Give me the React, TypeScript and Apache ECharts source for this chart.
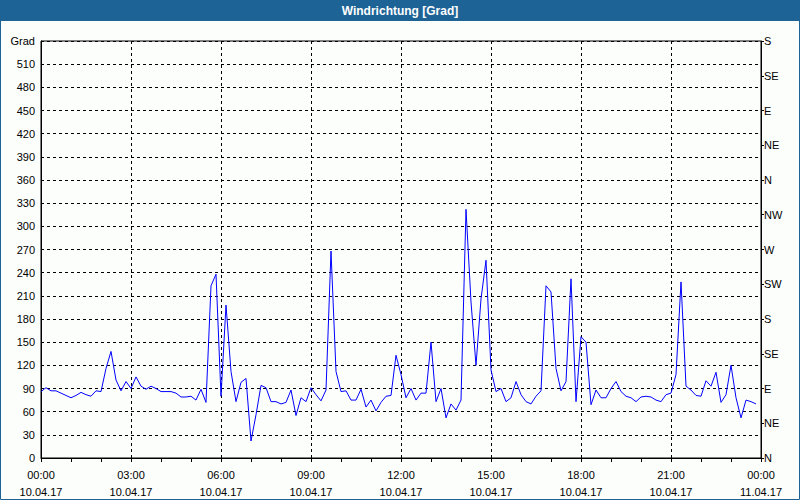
import React, { useEffect, useRef } from "react";
import * as echarts from "echarts";

const TITLE = "Windrichtung [Grad]";
const SAMPLE_MINUTES = 10;
const windDirection: number[] = [
  86, 91, 87, 87, 84, 81, 78, 81, 85, 82, 80, 87, 86, 116, 138, 101, 87, 99, 90, 105, 93, 89, 93, 90,
  86, 86, 86, 84, 79, 79, 80, 75, 89, 72, 223, 238, 80, 198, 112, 73, 98, 103, 22, 56, 94, 91, 73, 73,
  70, 72, 88, 55, 78, 73, 91, 82, 74, 88, 268, 112, 86, 87, 75, 75, 89, 66, 75, 61, 72, 80, 81, 133,
  108, 78, 90, 75, 84, 84, 150, 73, 90, 52, 70, 62, 75, 322, 202, 120, 206, 256, 114, 86, 90, 73, 78, 99,
  82, 73, 70, 80, 87, 223, 215, 116, 87, 99, 232, 73, 157, 150, 69, 88, 78, 78, 90, 99, 86, 80, 78, 73,
  79, 80, 79, 75, 73, 82, 84, 108, 228, 93, 88, 81, 80, 100, 93, 111, 72, 82, 120, 78, 52, 75, 73, 70,
];
const xTimeLabels = ["00:00", "03:00", "06:00", "09:00", "12:00", "15:00", "18:00", "21:00", "00:00"];
const xDateLabels = ["10.04.17", "10.04.17", "10.04.17", "10.04.17", "10.04.17", "10.04.17", "10.04.17", "10.04.17", "11.04.17"];
const compassLabels = ["N", "NE", "E", "SE", "S", "SW", "W", "NW", "N", "NE", "E", "SE", "S"];
const Y_UNIT = "Grad";

const FONT = "'Liberation Sans Narrow', 'Liberation Sans', Arial, sans-serif";

export default function App() {
  const ref = useRef<HTMLDivElement>(null);
  useEffect(() => {
    if (!ref.current) return;
    const chart = echarts.init(ref.current, null, { renderer: "svg" });
    const data = windDirection.map((v, i) => [i * SAMPLE_MINUTES, v]);
    chart.setOption({
      animation: false,
      backgroundColor: "#fcfefc",
      graphic: [
        { type: "rect", shape: { x: 0, y: 0, width: 800, height: 21 }, style: { fill: "#1e6396" }, z: 10 },
        {
          type: "text", x: 400, y: 11, z: 11,
          style: { text: TITLE, fill: "#ffffff", font: "bold 12px 'Liberation Sans', Arial, sans-serif", align: "center", verticalAlign: "middle" },
        },
        { type: "rect", shape: { x: 0.5, y: 0.5, width: 799, height: 499 }, style: { fill: "none", stroke: "#1e6396", lineWidth: 1 }, z: 12 },
      ],
      grid: { left: 41, right: 39, top: 41, bottom: 40, show: true, borderColor: "#000", borderWidth: 1, backgroundColor: "transparent" },
      xAxis: {
        type: "value", min: 0, max: 1440, interval: 180,
        axisLine: { show: true, lineStyle: { color: "#000", width: 1 } },
        axisTick: { show: true, length: 4, lineStyle: { color: "#000" } },
        minorTick: { show: true, splitNumber: 3, length: 4, lineStyle: { color: "#000" } },
        splitLine: { show: true, lineStyle: { color: "#000", type: [3, 3], width: 1 } },
        axisLabel: {
          color: "#000", fontSize: 11, fontFamily: FONT, margin: 8, lineHeight: 17,
          formatter: (v: number) => { const i = Math.round(v / 180); return xTimeLabels[i] + "\n" + xDateLabels[i]; },
        },
      },
      yAxis: [
        {
          type: "value", min: 0, max: 540, interval: 30, position: "left",
          axisLine: { show: true, lineStyle: { color: "#000" } },
          axisTick: { show: false },
          splitLine: { show: true, lineStyle: { color: "#000", type: [3, 3], width: 1 } },
          axisLabel: {
            color: "#000", fontSize: 11, fontFamily: FONT, margin: 6,
            formatter: (v: number) => (v === 540 ? Y_UNIT : String(v)),
          },
        },
        {
          type: "value", min: 0, max: 540, interval: 45, position: "right",
          axisLine: { show: true, lineStyle: { color: "#000" } },
          axisTick: { show: true, length: 3, lineStyle: { color: "#000" } },
          splitLine: { show: false },
          axisLabel: {
            color: "#000", fontSize: 11, fontFamily: FONT, margin: 3,
            formatter: (v: number) => compassLabels[Math.round(v / 45)],
          },
        },
      ],
      series: [
        {
          type: "line", data, yAxisIndex: 0, showSymbol: false, symbol: "none",
          lineStyle: { color: "#0000ff", width: 1 }, z: 5,
        },
      ],
    });
    return () => chart.dispose();
  }, []);
  return <div ref={ref} style={{ position: "absolute", left: 0, top: 0, width: 800, height: 500 }} />;
}
